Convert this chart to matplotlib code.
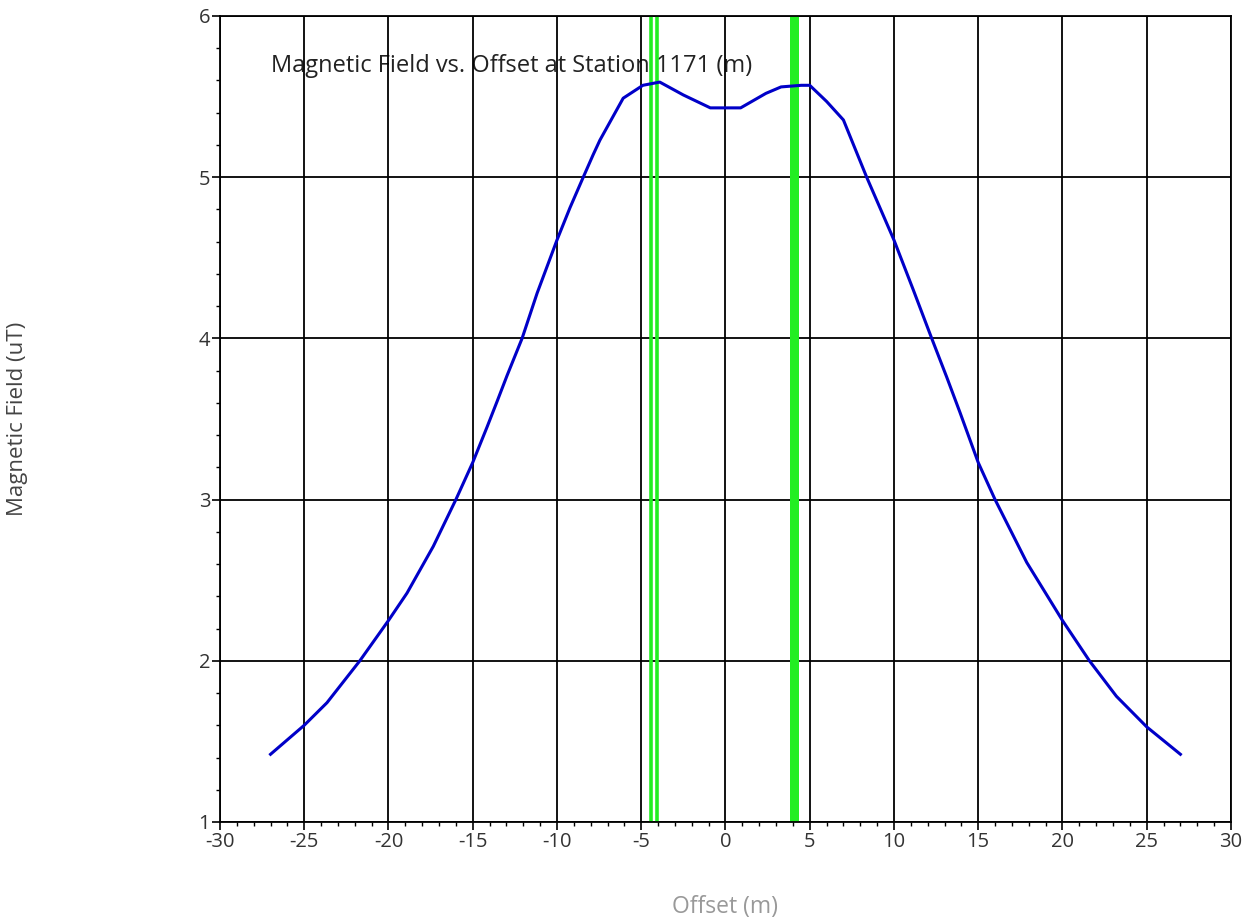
import numpy as np
import matplotlib.pyplot as plt
from matplotlib.ticker import MultipleLocator

# Datos
offset = [-27, -25, -23.65, -21.7, -20, -18.9, -17.34, -16.0, -15.0, -14.15,
          -13.55, -12.96, -12.07, -11.18, -10, -9.23, -8.44, -7.85, -7.45, -6.07,
          -4.9, -3.9, -2.5, -1.5, -0.9, 0, 0.9, 2.4, 3.3, 4.5,
          5.0, 6.0, 7.0, 8.38, 10, 11.15, 12.24, 13.13, 13.92, 15,
          16, 17.88, 20, 21.6, 23.2, 25, 27]
campo = [1.42, 1.60, 1.74, 2.0, 2.25, 2.42, 2.71, 3.0, 3.23, 3.45,
         3.61, 3.77, 4.0, 4.28, 4.61, 4.81, 5.0, 5.14, 5.23, 5.49,
         5.57, 5.59, 5.51, 5.46, 5.43, 5.43, 5.43, 5.52, 5.56, 5.57,
         5.57, 5.47, 5.355, 5.0, 4.61, 4.30, 4.0, 3.76, 3.54, 3.23,
         3.0, 2.61, 2.25, 2.0, 1.78, 1.59, 1.42]

lineas_verdes = [-4.4, -4.05]
banda_verde = (3.83, 4.38)

titulo = "Magnetic Field vs. Offset at Station 1171 (m)"

plt.rcParams['font.family'] = ['Open Sans', 'DejaVu Sans']
plt.rcParams['axes.unicode_minus'] = False

fig = plt.figure(figsize=(12.52, 9.24), dpi=100)
ax = fig.add_axes([0.1757, 0.1104, 0.8075, 0.8723])

ax.set_xlim(-30, 30)
ax.set_ylim(1, 6)
ax.xaxis.set_major_locator(MultipleLocator(5))
ax.xaxis.set_minor_locator(MultipleLocator(1))
ax.yaxis.set_major_locator(MultipleLocator(1))
ax.yaxis.set_minor_locator(MultipleLocator(0.2))

ax.grid(True, which='major', color='black', linewidth=1.3)
ax.set_axisbelow(True)

# Lineas verdes
for xv in lineas_verdes:
    ax.axvline(xv, color='#22ee22', linewidth=2.6, zorder=2)
ax.axvspan(banda_verde[0], banda_verde[1], color='#22ee22', linewidth=0, zorder=2)

ax.plot(offset, campo, color='#0000c8', linewidth=2.2, zorder=3)

# el titulo queda debajo de la rejilla, como en el original
ax.text(-27.0, 5.69, titulo, fontsize=17, color='#222222', va='center', ha='left', zorder=0.3)

ax.tick_params(which='major', direction='out', length=6, width=1.2,
               labelsize=14.5, colors='black', labelcolor='#333333', pad=1)
ax.tick_params(which='minor', direction='out', length=3, width=1.0)
for s in ax.spines.values():
    s.set_linewidth(1.3)

ax.set_xlabel("Offset (m)", fontsize=16.5, color='#999999')
ax.set_ylabel("Magnetic Field (uT)", fontsize=16, color='#444444')
ax.xaxis.set_label_coords(0.5, -0.105)
ax.yaxis.set_label_coords(-0.2, 0.5)
ax.xaxis.label.set_va('center')
ax.yaxis.label.set_va('center')

fig.savefig('out.png', dpi=100)
